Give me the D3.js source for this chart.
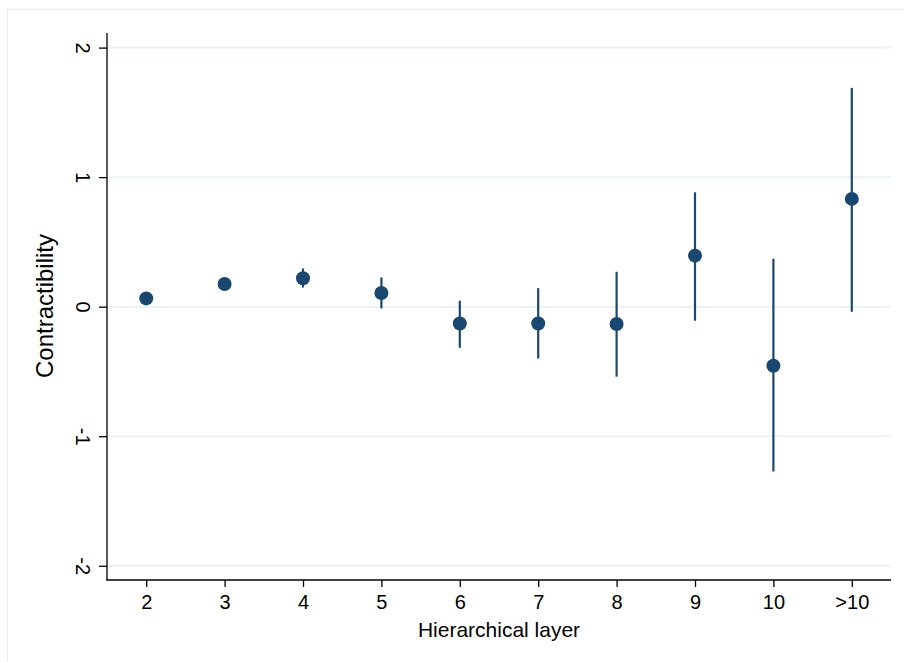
<!DOCTYPE html>
<html lang="en">
<head>
  <meta charset="UTF-8">
  <script src="https://d3js.org/d3.v7.min.js"></script>
  <title>Contractibility by hierarchical layer</title>
  <style>
    body { margin: 0; background: #fff; }
    svg { display: block; font-family: "Liberation Sans", Arial, Helvetica, sans-serif; }
  </style>
</head>
<body>
  <svg width="904" height="662"></svg>
  <script>
    // layer categories and estimates
    const layers = ["2", "3", "4", "5", "6", "7", "8", "9", "10", ">10"];
    const estimate = [0.064, 0.175, 0.22, 0.106, -0.13, -0.13, -0.134, 0.394, -0.456, 0.832];
    const ciLow = [0.04, 0.15, 0.148, -0.013, -0.317, -0.40, -0.54, -0.108, -1.272, -0.039];
    const ciHigh = [0.09, 0.20, 0.295, 0.226, 0.046, 0.143, 0.27, 0.883, 0.37, 1.689];
    const yTicks = [-2, -1, 0, 1, 2];

    const navy = "#1a476f";
    const svg = d3.select("svg");

    // light outer frame (cut off at right and bottom like the original)
    svg.append("rect")
      .attr("x", 7.5).attr("y", 9.5)
      .attr("width", 1000).attr("height", 1000)
      .attr("fill", "none")
      .attr("stroke", "#ececec");

    const xScale = d3.scaleLinear().domain([-0.5, layers.length - 0.5]).range([107, 891]);
    const yScale = d3.scaleLinear().domain([-2.11, 2.105]).range([580, 34]);

    // gridlines
    svg.append("g")
      .selectAll("line")
      .data(yTicks)
      .join("line")
      .attr("x1", 108).attr("x2", 891)
      .attr("y1", d => yScale(d)).attr("y2", d => yScale(d))
      .attr("stroke", "#eaf2f3")
      .attr("stroke-width", 2);

    // y axis (plain hyphen for negatives, labels turned like the original)
    const yAxis = d3.axisLeft(yScale).tickValues(yTicks).tickSize(8).tickPadding(0).tickFormat(d => String(d));
    const yAxisG = svg.append("g").attr("transform", "translate(107,0)").call(yAxis);
    yAxisG.select(".domain").attr("stroke", "#000").attr("stroke-width", 1.3).attr("d", "M0,33V580.5");
    yAxisG.selectAll(".tick line").attr("stroke", "#000").attr("stroke-width", 1.3);
    yAxisG.selectAll(".tick text")
      .attr("x", 0).attr("y", 0).attr("dy", "0.35em")
      .attr("text-anchor", "middle")
      .attr("transform", "translate(-24,0) rotate(90)")
      .attr("font-size", 20)
      .attr("fill", "#000");

    // x axis
    const xAxis = d3.axisBottom(xScale)
      .tickValues(d3.range(layers.length))
      .tickFormat(i => layers[i])
      .tickSize(7).tickPadding(8);
    const xAxisG = svg.append("g").attr("transform", "translate(0,580)").call(xAxis);
    xAxisG.select(".domain").attr("stroke", "#000").attr("stroke-width", 1.3).attr("d", "M106.5,0H891");
    xAxisG.selectAll(".tick line").attr("stroke", "#000").attr("stroke-width", 1.3);
    xAxisG.selectAll(".tick text").attr("font-size", 20).attr("fill", "#000");

    // axis titles
    svg.append("text")
      .attr("x", 499).attr("y", 637)
      .attr("text-anchor", "middle")
      .attr("font-size", 21)
      .text("Hierarchical layer");

    svg.append("text")
      .attr("transform", "translate(53,306) rotate(-90)")
      .attr("text-anchor", "middle")
      .attr("font-size", 24)
      .text("Contractibility");

    // confidence intervals
    svg.append("g")
      .selectAll("line")
      .data(layers)
      .join("line")
      .attr("x1", (d, i) => xScale(i)).attr("x2", (d, i) => xScale(i))
      .attr("y1", (d, i) => yScale(ciLow[i])).attr("y2", (d, i) => yScale(ciHigh[i]))
      .attr("stroke", navy)
      .attr("stroke-width", 2.2);

    // point estimates
    svg.append("g")
      .selectAll("circle")
      .data(layers)
      .join("circle")
      .attr("cx", (d, i) => xScale(i))
      .attr("cy", (d, i) => yScale(estimate[i]))
      .attr("r", 7)
      .attr("fill", navy);
  </script>
</body>
</html>
